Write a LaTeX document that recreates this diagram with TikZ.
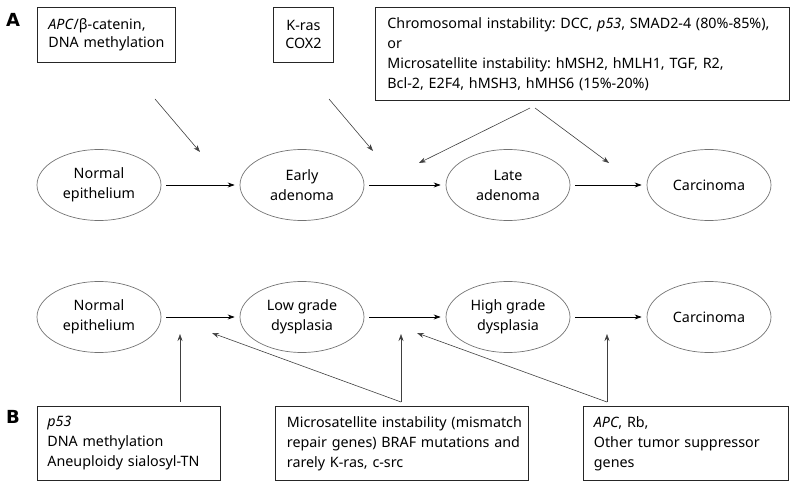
\documentclass[tikz,border=0pt]{standalone}
\usepackage{fontspec}
\setmainfont{Noto Sans}
\newfontfamily\lblfont{DejaVu Sans Bold}
\frenchspacing
\usetikzlibrary{shapes.geometric,arrows.meta}
\begin{document}
\begin{tikzpicture}[x=1pt,y=-1pt,
  every node/.style={font=\fontsize{14.3}{20}\selectfont},
  box/.style={draw=black!85,line width=0.8pt,rectangle,anchor=north west,inner ysep=0pt,align=left},
  stage/.style={draw=black!55,line width=0.7pt,ellipse,minimum width=124pt,minimum height=71pt,inner sep=0pt,align=center},
  flow/.style={-{Stealth[length=7pt,width=5pt]},line width=0.7pt,black,shorten <=5pt,shorten >=5pt},
  infl/.style={-{Stealth[length=7pt,width=5pt]},line width=0.6pt,black!75},
  lbl/.style={font=\lblfont\fontsize{18}{18}\selectfont}]
\useasboundingbox (0,0) rectangle (796,489);

% labels
\node[lbl] (la) at (13,20) {A};
\node[lbl] (lb) at (13,417) {B};

% top boxes
\node[box,text width=116pt,inner xsep=11pt,minimum height=55pt,font=\fontsize{14.3}{17.5}\selectfont] (b1) at (37,7)
  {\textit{APC}/β-catenin,\\DNA methylation};
\node[box,align=center,inner xsep=0pt,minimum width=60pt,minimum height=55pt,font=\fontsize{14.3}{18}\selectfont] (b2) at (273,7)
  {K-ras\\COX2};
\node[box,text width=390pt,inner xsep=12pt,minimum height=93pt] (b3) at (375,7)
  {\mbox{Chromosomal instability: DCC, \textit{p53}, SMAD2-4 (80\%-85\%),}\\or\\\mbox{Microsatellite instability: hMSH2, hMLH1, TGF, R2,}\\Bcl-2, E2F4, hMSH3, hMHS6 (15\%-20\%)};

% row A
\node[stage] (n1) at (99,185) {Normal\\epithelium};
\node[stage] (e1) at (302,185) {Early\\adenoma};
\node[stage] (l1) at (508,185) {Late\\adenoma};
\node[stage] (c1) at (709,185) {Carcinoma};
\draw[flow] (n1) -- (e1);
\draw[flow] (e1) -- (l1);
\draw[flow] (l1) -- (c1);

\coordinate (a1s) at (155,99);  \coordinate (a1e) at (200,152);
\coordinate (a2s) at (329,99);  \coordinate (a2e) at (373,151);
\coordinate (a3s) at (530,108); \coordinate (a3e) at (419,163);
\coordinate (a4s) at (535,108); \coordinate (a4e) at (609,163);
\draw[infl] (a1s) -- (a1e);
\draw[infl] (a2s) -- (a2e);
\draw[infl] (a3s) -- (a3e);
\draw[infl] (a4s) -- (a4e);

% row B
\node[stage] (n2) at (99,317) {Normal\\epithelium};
\node[stage] (g1) at (302,317) {Low grade\\dysplasia};
\node[stage] (g2) at (508,317) {High grade\\dysplasia};
\node[stage] (c2) at (709,317) {Carcinoma};
\draw[flow] (n2) -- (g1);
\draw[flow] (g1) -- (g2);
\draw[flow] (g2) -- (c2);

% bottom boxes
\node[box,text width=163pt,inner xsep=10pt,minimum height=74pt] (d1) at (37,406)
  {\textit{p53}\\DNA methylation\\Aneuploidy sialosyl-TN};
\node[box,text width=230pt,inner xsep=11.5pt,minimum height=74pt] (d2) at (275,406)
  {\makebox[230pt][s]{Microsatellite instability (mismatch}\\\makebox[230pt][s]{repair genes) BRAF mutations and}\\rarely K-ras, c-src};
\node[box,text width=184pt,inner xsep=10.5pt,minimum height=74pt] (d3) at (583,406)
  {\textit{APC}, Rb,\\\makebox[184pt][s]{Other tumor suppressor}\\genes};

\coordinate (p1s) at (180,402); \coordinate (p1e) at (180,334);
\coordinate (p2s) at (401,402); \coordinate (p2e) at (401,334); \coordinate (p2f) at (212,333);
\coordinate (p3s) at (607,402); \coordinate (p3e) at (607,334); \coordinate (p3f) at (417,333);
\draw[infl] (p1s) -- (p1e);
\draw[infl] (p2s) -- (p2e);
\draw[infl] (p2s) -- (p2f);
\draw[infl] (p3s) -- (p3e);
\draw[infl] (p3s) -- (p3f);
\end{tikzpicture}
\end{document}
